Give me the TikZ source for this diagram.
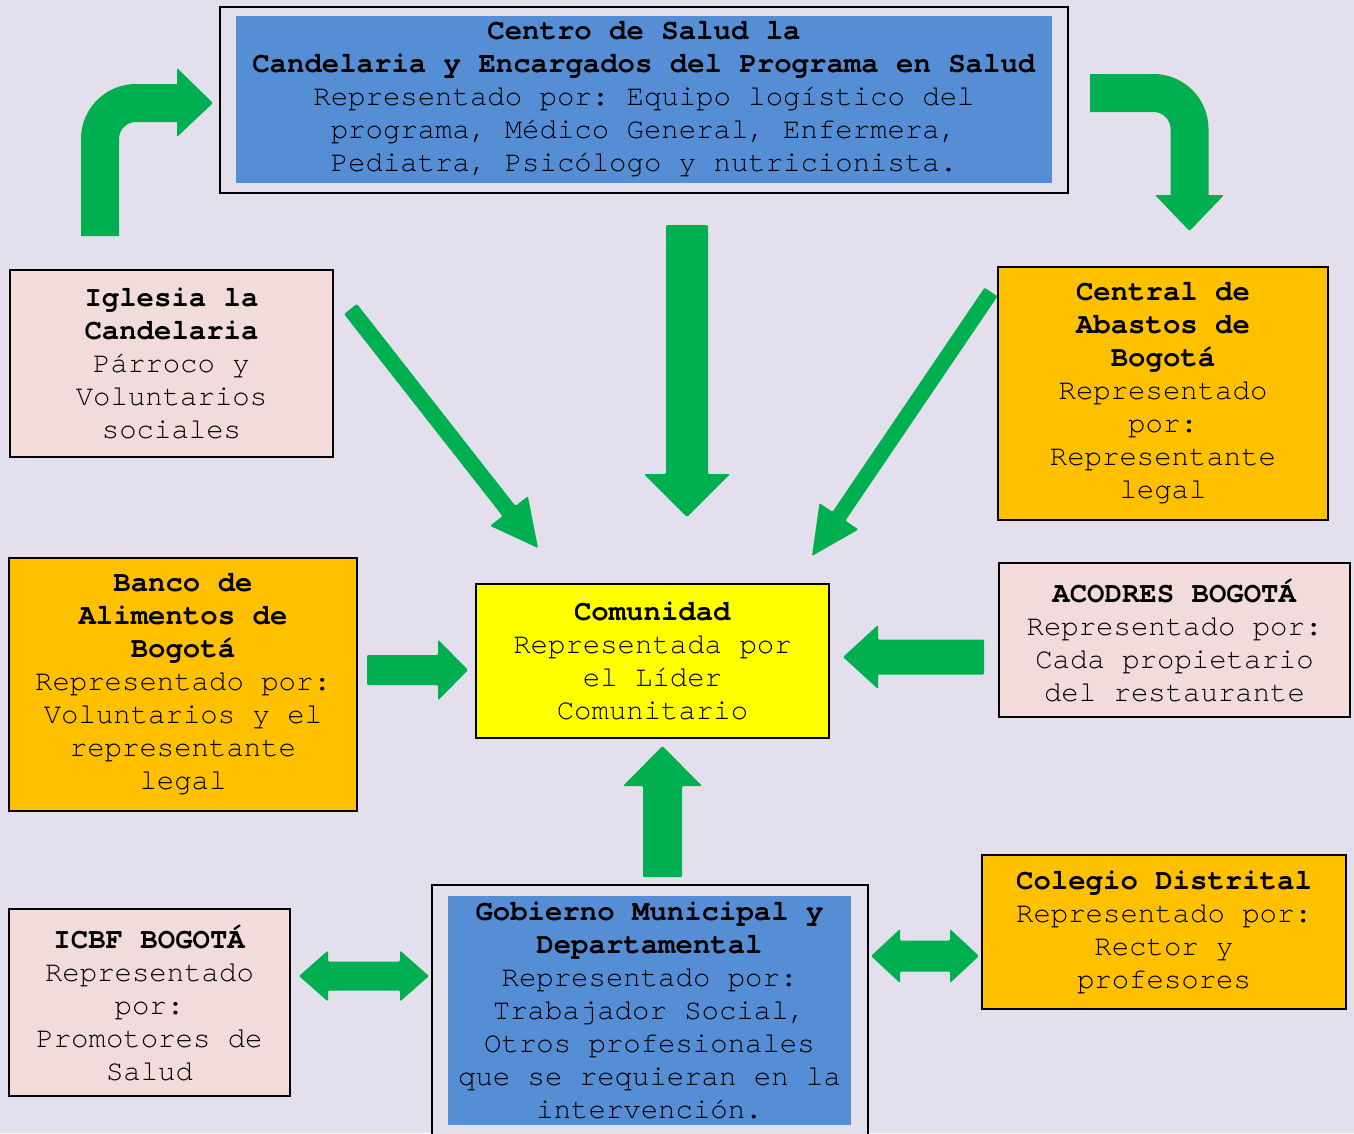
\documentclass[tikz,border=0pt]{standalone}
\usepackage{fontspec}
\setmonofont{texgyrecursor}[Extension=.otf, UprightFont=*-regular, BoldFont=*-bold]
\usetikzlibrary{calc}
\definecolor{bgcol}{HTML}{E4DFEC}
\definecolor{pinkcol}{HTML}{F2DCDB}
\definecolor{orangecol}{HTML}{FFC000}
\definecolor{yellowcol}{HTML}{FFFF00}
\definecolor{bluecol}{HTML}{558ED5}
\definecolor{greencol}{HTML}{00B050}
\newcommand{\bodyfont}{\ttfamily\fontsize{29}{33}\selectfont}
% straight block arrow: #1 start, #2 tip, #3 half shaft width, #4 half head width, #5 head length
\newcommand{\blockarrow}[5]{%
  \path coordinate (tmpB) at ($(#2)!#5!(#1)$);
  \fill[arrowfill] ($(#1)!#3!90:(#2)$) -- ($(tmpB)!#3!90:(#2)$) -- ($(tmpB)!#4!90:(#2)$)
    -- (#2) -- ($(tmpB)!#4!-90:(#2)$) -- ($(tmpB)!#3!-90:(#2)$) -- ($(#1)!#3!-90:(#2)$) -- cycle;}
% double block arrow
\newcommand{\dblarrow}[5]{%
  \path coordinate (tmpA) at ($(#1)!#5!(#2)$) coordinate (tmpB) at ($(#2)!#5!(#1)$);
  \fill[arrowfill] (#1) -- ($(tmpA)!#4!90:(#2)$) -- ($(tmpA)!#3!90:(#2)$) -- ($(tmpB)!#3!-90:(#1)$)
    -- ($(tmpB)!#4!-90:(#1)$) -- (#2) -- ($(tmpB)!#4!90:(#1)$) -- ($(tmpB)!#3!90:(#1)$)
    -- ($(tmpA)!#3!-90:(#2)$) -- ($(tmpA)!#4!-90:(#2)$) -- cycle;}
\begin{document}
\begin{tikzpicture}[x=1pt,y=-1pt,
  box/.style={draw=black, line width=1.5pt, align=center, inner sep=0pt, font=\bodyfont, text=black},
  framebox/.style={draw=black, line width=1.8pt, inner sep=0pt, fill=bgcol},
  bluebox/.style={fill=bluecol, align=center, inner sep=0pt, font=\bodyfont, text=black},
  arrowfill/.style={fill=greencol, rounded corners=1.2pt},
  bentarrow/.style={draw=greencol, line width=38pt, rounded corners=36pt}]
\useasboundingbox (0,0) rectangle (1354,1133);
\clip (0,0) rectangle (1354,1133);
\fill[bgcol] (0,0) rectangle (1354,1133);

% Boxes
\node[framebox, minimum width=848, minimum height=186] (centroF) at (644,100) {};
\node[bluebox, minimum width=816, minimum height=167] (centro) at (644,99.5)
  {\textbf{Centro de Salud la}\\\textbf{Candelaria y Encargados del Programa en Salud}\\Representado por: Equipo logístico del\\programa, Médico General, Enfermera,\\Pediatra, Psicólogo y nutricionista.};

\node[box, fill=pinkcol, minimum width=323, minimum height=187] (iglesia) at (171.5,363.5)
  {\textbf{Iglesia la}\\\textbf{Candelaria}\\Párroco y\\Voluntarios\\sociales};

\node[box, fill=orangecol, minimum width=330, minimum height=253] (central) at (1163,393.5)
  {\textbf{Central de}\\\textbf{Abastos de}\\\textbf{Bogotá}\\Representado\\por:\\Representante\\legal};

\node[box, fill=orangecol, minimum width=348, minimum height=253] (banco) at (183,684.5)
  {\textbf{Banco de}\\\textbf{Alimentos de}\\\textbf{Bogotá}\\Representado por:\\Voluntarios y el\\representante\\legal};

\node[box, fill=yellowcol, minimum width=353, minimum height=154] (comunidad) at (652.5,661)
  {\textbf{Comunidad}\\Representada por\\el Líder\\Comunitario};

\node[box, fill=pinkcol, minimum width=351, minimum height=154] (acodres) at (1174.5,640)
  {\textbf{ACODRES BOGOTÁ}\\Representado por:\\Cada propietario\\del restaurante};

\node[box, fill=pinkcol, minimum width=281, minimum height=187] (icbf) at (149.5,1002.5)
  {\textbf{ICBF BOGOTÁ}\\Representado\\por:\\Promotores de\\Salud};

\node[framebox, minimum width=436, minimum height=262] (gobiernoF) at (650,1016) {};
\node[bluebox, minimum width=403, minimum height=229] (gobierno) at (649.5,1010.5)
  {\textbf{Gobierno Municipal y}\\\textbf{Departamental}\\Representado por:\\Trabajador Social,\\Otros profesionales\\que se requieran en la\\intervención.};

\node[box, fill=orangecol, minimum width=364, minimum height=154] (colegio) at (1164,932)
  {\textbf{Colegio Distrital}\\Representado por:\\Rector y\\profesores};

% Arrow anchor coordinates
\coordinate (a1s) at (350.5,309);  \coordinate (a1t) at (538,548);
\coordinate (a2s) at (687,225);    \coordinate (a2t) at (687,517);
\coordinate (a3s) at (991,292);    \coordinate (a3t) at (812,556);
\coordinate (a4s) at (367,670);    \coordinate (a4t) at (468,670);
\coordinate (a5s) at (984,657);    \coordinate (a5t) at (843,657);
\coordinate (a6s) at (662.5,877);  \coordinate (a6t) at (662.5,746);
\coordinate (d1a) at (299,976);    \coordinate (d1b) at (429,976);
\coordinate (d2a) at (871,956);    \coordinate (d2b) at (979,956);

\blockarrow{a1s}{a1t}{8.2pt}{24pt}{47pt}
\blockarrow{a2s}{a2t}{21pt}{43pt}{43pt}
\blockarrow{a3s}{a3t}{7.8pt}{23.5pt}{48pt}
\blockarrow{a4s}{a4t}{15pt}{30.5pt}{30pt}
\blockarrow{a5s}{a5t}{17.5pt}{32pt}{35pt}
\blockarrow{a6s}{a6t}{19.5pt}{39.5pt}{40pt}
\dblarrow{d1a}{d1b}{14.5pt}{25.5pt}{29pt}
\dblarrow{d2a}{d2b}{15.5pt}{27pt}{29pt}

% Bent arrows
\coordinate (b1s) at (100,236); \coordinate (b1c) at (100,103); \coordinate (b1e) at (179,103);
\draw[bentarrow] (b1s) -- (b1c) -- (b1e);
\coordinate (b1t) at (213,103);
\fill[arrowfill] (177,68) -- (b1t) -- (177,137) -- cycle;

\coordinate (b2s) at (1090,93); \coordinate (b2c) at (1189.5,93); \coordinate (b2e) at (1189.5,197);
\draw[bentarrow] (b2s) -- (b2c) -- (b2e);
\coordinate (b2t) at (1189.5,231);
\fill[arrowfill] (1155,195) -- (b2t) -- (1224,195) -- cycle;
\end{tikzpicture}
\end{document}
